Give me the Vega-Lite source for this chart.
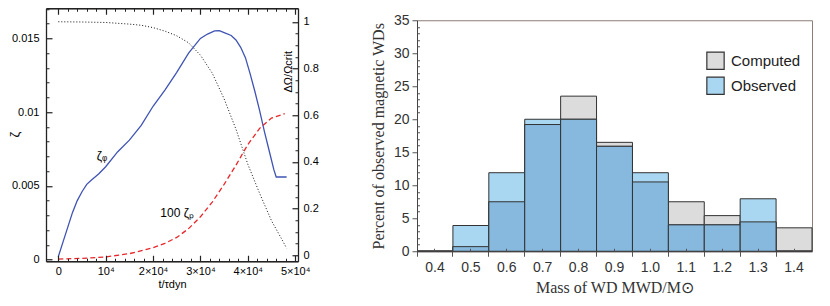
{
  "$schema": "https://vega.github.io/schema/vega-lite/v6.json",
  "padding": {"left": 7, "top": 7, "right": 5, "bottom": 0},
  "spacing": 50,
  "center": true,
  "resolve": {"legend": {"color": "independent"}},
  "config": {
    "view": {"stroke": "#8b7e77", "strokeWidth": 1},
    "axis": {"grid": false, "labelFont": "Liberation Sans", "titleFont": "Liberation Sans", "labelOverlap": false, "labelFlush": false},
    "text": {"font": "Liberation Sans"}
  },
  "datasets": {
    "left": [
      {"s": "phi", "t": 0, "z": 0.0002}, {"s": "phi", "t": 1000, "z": 0.0012}, {"s": "phi", "t": 2000, "z": 0.0022}, {"s": "phi", "t": 3000, "z": 0.0032},
      {"s": "phi", "t": 4000, "z": 0.0040}, {"s": "phi", "t": 5000, "z": 0.0046}, {"s": "phi", "t": 6000, "z": 0.0051}, {"s": "phi", "t": 7000, "z": 0.0054},
      {"s": "phi", "t": 8500, "z": 0.0058}, {"s": "phi", "t": 10000, "z": 0.0063}, {"s": "phi", "t": 12500, "z": 0.0073}, {"s": "phi", "t": 15000, "z": 0.0081},
      {"s": "phi", "t": 17500, "z": 0.0091}, {"s": "phi", "t": 20000, "z": 0.0104}, {"s": "phi", "t": 22500, "z": 0.0115}, {"s": "phi", "t": 25000, "z": 0.0127},
      {"s": "phi", "t": 27500, "z": 0.0140}, {"s": "phi", "t": 30000, "z": 0.0150}, {"s": "phi", "t": 31500, "z": 0.0153}, {"s": "phi", "t": 33000, "z": 0.01552},
      {"s": "phi", "t": 34000, "z": 0.01553}, {"s": "phi", "t": 35000, "z": 0.0154}, {"s": "phi", "t": 36500, "z": 0.0152}, {"s": "phi", "t": 37500, "z": 0.0149},
      {"s": "phi", "t": 38500, "z": 0.0144}, {"s": "phi", "t": 39500, "z": 0.0137}, {"s": "phi", "t": 40500, "z": 0.0126}, {"s": "phi", "t": 41500, "z": 0.0114},
      {"s": "phi", "t": 42500, "z": 0.0101}, {"s": "phi", "t": 43500, "z": 0.0087}, {"s": "phi", "t": 44500, "z": 0.0074}, {"s": "phi", "t": 45500, "z": 0.0061},
      {"s": "phi", "t": 46000, "z": 0.0056}, {"s": "phi", "t": 48200, "z": 0.0056},
      {"s": "p", "t": 0, "z": 0.00003}, {"s": "p", "t": 5000, "z": 0.00008}, {"s": "p", "t": 10000, "z": 0.00018}, {"s": "p", "t": 15000, "z": 0.0004},
      {"s": "p", "t": 20000, "z": 0.0008}, {"s": "p", "t": 22500, "z": 0.0011}, {"s": "p", "t": 25000, "z": 0.0015}, {"s": "p", "t": 27500, "z": 0.0021},
      {"s": "p", "t": 30000, "z": 0.0029}, {"s": "p", "t": 32500, "z": 0.0039}, {"s": "p", "t": 35000, "z": 0.0051}, {"s": "p", "t": 37500, "z": 0.0064},
      {"s": "p", "t": 40000, "z": 0.0078}, {"s": "p", "t": 42500, "z": 0.0089}, {"s": "p", "t": 45000, "z": 0.0096}, {"s": "p", "t": 47800, "z": 0.0099},
      {"s": "omega", "t": 0, "w": 1.0}, {"s": "omega", "t": 5000, "w": 0.999}, {"s": "omega", "t": 10000, "w": 0.997}, {"s": "omega", "t": 15000, "w": 0.99},
      {"s": "omega", "t": 17500, "w": 0.985}, {"s": "omega", "t": 20000, "w": 0.975}, {"s": "omega", "t": 22500, "w": 0.96}, {"s": "omega", "t": 25000, "w": 0.94},
      {"s": "omega", "t": 27500, "w": 0.91}, {"s": "omega", "t": 30000, "w": 0.857}, {"s": "omega", "t": 32500, "w": 0.78}, {"s": "omega", "t": 35000, "w": 0.67},
      {"s": "omega", "t": 37500, "w": 0.54}, {"s": "omega", "t": 40000, "w": 0.39}, {"s": "omega", "t": 42500, "w": 0.265}, {"s": "omega", "t": 45000, "w": 0.148},
      {"s": "omega", "t": 47000, "w": 0.075}, {"s": "omega", "t": 48200, "w": 0.03},
      {"s": "note", "t": 9240, "z": 0.0070, "txt": "ζᵩ"},
      {"s": "note", "t": 25080, "z": 0.00314, "txt": "100 ζₚ"}
    ],
    "hist": [
      {"mass": "0.4", "computed": 0, "observed": 0, "both": 0},
      {"mass": "0.5", "computed": 0.7, "observed": 3.9, "both": 0.7},
      {"mass": "0.6", "computed": 7.5, "observed": 11.9, "both": 7.5},
      {"mass": "0.7", "computed": 19.2, "observed": 20, "both": 19.2},
      {"mass": "0.8", "computed": 23.5, "observed": 20, "both": 20},
      {"mass": "0.9", "computed": 16.5, "observed": 15.9, "both": 15.9},
      {"mass": "1.0", "computed": 10.5, "observed": 11.9, "both": 10.5},
      {"mass": "1.1", "computed": 7.5, "observed": 4, "both": 4},
      {"mass": "1.2", "computed": 5.4, "observed": 4, "both": 4},
      {"mass": "1.3", "computed": 4.45, "observed": 7.95, "both": 4.45},
      {"mass": "1.4", "computed": 3.55, "observed": 0, "both": 0}
    ]
  },
  "hconcat": [
    {
      "width": 252,
      "height": 253,
      "data": {"name": "left"},
      "resolve": {"axis": {"x": "independent", "y": "independent"}},
      "layer": [
        {
          "transform": [{"filter": "datum.s === 'phi'"}],
          "mark": {"type": "line", "color": "#3f53b3", "strokeWidth": 1.3},
          "encoding": {
            "x": {
              "field": "t", "type": "quantitative",
              "scale": {"domain": [-2600, 50600], "nice": false, "zero": false},
              "axis": {
                "orient": "bottom", "offset": -6, "zindex": 1,
                "values": [0, 10000, 20000, 30000, 40000, 50000],
                "domain": false, "tickColor": "#222", "tickSize": 6, "tickWidth": 1.2,
                "labelExpr": "datum.value === 0 ? '0' : (datum.value === 10000 ? '10⁴' : (datum.value / 10000) + '×10⁴')",
                "labelPadding": 4, "labelFontSize": 11, "labelColor": "#000",
                "title": "t/τdyn", "titleY": 29, "titleBaseline": "middle",
                "titleFontSize": 11, "titleFontWeight": "normal", "titleColor": "#000"
              }
            },
            "y": {
              "field": "z", "type": "quantitative",
              "scale": {"domain": [-0.000115, 0.01705], "nice": false, "zero": false},
              "axis": {
                "orient": "left", "offset": -6, "zindex": 1,
                "values": [0, 0.005, 0.01, 0.015],
                "format": "~g",
                "domain": false, "tickColor": "#222", "tickSize": 6, "tickWidth": 1.2,
                "labelPadding": 7, "labelFontSize": 11, "labelColor": "#000",
                "title": "ζ", "titleX": -38, "titleY": 126, "titleAngle": 270,
                "titleAlign": "center", "titleBaseline": "middle",
                "titleFontSize": 13, "titleFontWeight": "normal", "titleColor": "#000"
              }
            }
          }
        },
        {
          "transform": [{"filter": "datum.s === 'p'"}],
          "mark": {"type": "line", "color": "#e8262a", "strokeWidth": 1.3, "strokeDash": [5, 3]},
          "encoding": {
            "x": {
              "field": "t", "type": "quantitative",
              "scale": {"domain": [-2600, 50600], "nice": false, "zero": false},
              "axis": {
                "orient": "bottom", "offset": -3, "zindex": 1,
                "values": [2000,4000,6000,8000,12000,14000,16000,18000,22000,24000,26000,28000,32000,34000,36000,38000,42000,44000,46000,48000],
                "domain": false, "labels": false, "tickColor": "#222", "tickSize": 3,
                "title": ".", "titleOpacity": 0, "titleFontSize": 2, "titleY": 48, "titleBaseline": "middle"
              }
            },
            "y": {
              "field": "z", "type": "quantitative",
              "scale": {"domain": [-0.000115, 0.01705], "nice": false, "zero": false},
              "axis": {
                "orient": "left", "offset": -3, "zindex": 1,
                "values": [0.001,0.002,0.003,0.004,0.006,0.007,0.008,0.009,0.011,0.012,0.013,0.014,0.016,0.017],
                "domain": false, "labels": false, "tickColor": "#222", "tickSize": 3, "title": null
              }
            }
          }
        },
        {
          "transform": [
            {"filter": "datum.s === 'omega'"},
            {"calculate": "0.0002917 + 0.015841 * datum.w", "as": "zw"}
          ],
          "mark": {"type": "line", "color": "#111", "strokeWidth": 1, "strokeDash": [1, 2]},
          "encoding": {
            "x": {
              "field": "t", "type": "quantitative",
              "scale": {"domain": [-2600, 50600], "nice": false, "zero": false},
              "axis": {
                "orient": "top", "offset": -6, "zindex": 1,
                "values": [0, 10000, 20000, 30000, 40000, 50000],
                "domain": false, "labels": false, "tickColor": "#222", "tickSize": 6, "tickWidth": 1.2, "title": null
              }
            },
            "y": {
              "field": "zw", "type": "quantitative",
              "scale": {"domain": [-0.000115, 0.01705], "nice": false, "zero": false},
              "axis": {
                "orient": "right", "offset": -6, "zindex": 1,
                "values": [0.0002917, 0.0034599, 0.0066281, 0.0097963, 0.0129645, 0.0161327],
                "labelExpr": "format((datum.value - 0.0002917) / 0.015841, '.1~f')",
                "domain": false, "tickColor": "#222", "tickSize": 6, "tickWidth": 1.2,
                "labelPadding": 5, "labelFontSize": 11, "labelColor": "#000",
                "title": "ΔΩ/Ωcrit", "titleX": -4, "titleY": 63, "titleAngle": 270,
                "titleAlign": "center", "titleBaseline": "middle",
                "titleFontSize": 11, "titleFontWeight": "normal", "titleColor": "#000"
              }
            }
          }
        },
        {
          "transform": [{"filter": "datum.s === 'note'"}],
          "mark": {"type": "text", "fontSize": 12, "color": "#000", "align": "center", "baseline": "middle"},
          "encoding": {
            "x": {
              "field": "t", "type": "quantitative",
              "scale": {"domain": [-2600, 50600], "nice": false, "zero": false},
              "axis": {
                "orient": "top", "offset": -3, "zindex": 1,
                "values": [2000,4000,6000,8000,12000,14000,16000,18000,22000,24000,26000,28000,32000,34000,36000,38000,42000,44000,46000,48000],
                "domain": false, "labels": false, "tickColor": "#222", "tickSize": 3, "title": null
              }
            },
            "y": {
              "field": "z", "type": "quantitative",
              "scale": {"domain": [-0.000115, 0.01705], "nice": false, "zero": false},
              "axis": {
                "orient": "right", "offset": -3, "zindex": 1,
                "values": [0.0010838,0.0018758,0.0026679,0.004252,0.005044,0.0058361,0.0074202,0.0082122,0.0090043,0.0105884,0.0113804,0.0121725,0.0137566,0.0145486,0.0153407],
                "domain": false, "labels": false, "tickColor": "#222", "tickSize": 3, "title": null
              }
            },
            "text": {"field": "txt"}
          }
        },
        {
          "transform": [{"filter": "datum.s === 'phi'"}],
          "mark": {"type": "line", "strokeOpacity": 0},
          "encoding": {
            "x": {
              "field": "t", "type": "quantitative",
              "scale": {"domain": [-2600, 50600], "nice": false, "zero": false},
              "axis": {
                "orient": "bottom", "zindex": 1, "domain": true, "domainColor": "#222", "domainWidth": 1.3,
                "ticks": false, "labels": false, "title": null
              }
            },
            "y": {
              "field": "z", "type": "quantitative",
              "scale": {"domain": [-0.000115, 0.01705], "nice": false, "zero": false},
              "axis": {
                "orient": "left", "zindex": 1, "domain": true, "domainColor": "#222", "domainWidth": 1.3,
                "ticks": false, "labels": false, "title": null
              }
            }
          }
        },
        {
          "transform": [{"filter": "datum.s === 'phi'"}],
          "mark": {"type": "line", "strokeOpacity": 0},
          "encoding": {
            "x": {
              "field": "t", "type": "quantitative",
              "scale": {"domain": [-2600, 50600], "nice": false, "zero": false},
              "axis": {
                "orient": "top", "zindex": 1, "domain": true, "domainColor": "#222", "domainWidth": 1.3,
                "ticks": false, "labels": false, "title": null
              }
            },
            "y": {
              "field": "z", "type": "quantitative",
              "scale": {"domain": [-0.000115, 0.01705], "nice": false, "zero": false},
              "axis": {
                "orient": "right", "zindex": 1, "domain": true, "domainColor": "#222", "domainWidth": 1.3,
                "ticks": false, "labels": false, "title": null
              }
            }
          }
        }
      ]
    },
    {
      "width": 395,
      "height": 231,
      "data": {"name": "hist"},
      "resolve": {"axis": {"x": "independent", "y": "independent"}},
      "layer": [
        {
          "mark": {"type": "bar", "stroke": "#333", "strokeWidth": 1},
          "encoding": {
            "x": {
              "field": "mass", "type": "ordinal",
              "scale": {"paddingInner": 0, "paddingOuter": 0},
              "axis": {
                "orient": "bottom", "labelAngle": 0, "offset": -3, "zindex": 1,
                "domain": false, "tickColor": "#555", "tickSize": 3,
                "labelPadding": 9, "labelFontSize": 14, "labelColor": "#333",
                "title": "Mass of WD  MWD/M⊙", "titleFont": "Liberation Serif",
                "titleFontSize": 16, "titleFontWeight": "normal", "titleColor": "#333",
                "titleY": 39, "titleBaseline": "middle"
              }
            },
            "y": {
              "field": "computed", "type": "quantitative",
              "scale": {"domain": [0, 35], "nice": false},
              "axis": {
                "orient": "left", "zindex": 1,
                "values": [0, 5, 10, 15, 20, 25, 30, 35],
                "domainColor": "#444", "tickColor": "#555", "tickSize": 5,
                "labelPadding": 3, "labelFontSize": 14, "labelColor": "#333",
                "title": "Percent of observed magnetic WDs", "titleFont": "Liberation Serif",
                "titleFontSize": 16, "titleFontWeight": "normal", "titleColor": "#333",
                "titlePadding": 7
              }
            },
            "color": {
              "datum": "Computed",
              "scale": {"domain": ["Computed", "Observed"], "range": ["#dcdcdc", "#a9d6f0"]},
              "legend": {
                "title": null, "orient": "none", "legendX": 289, "legendY": 31, "padding": 0,
                "symbolType": "square", "symbolSize": 300,
                "symbolStrokeColor": "#333", "symbolStrokeWidth": 1.2,
                "labelFont": "Liberation Sans", "labelFontSize": 15, "labelColor": "#222",
                "labelOffset": 6, "rowPadding": 2
              }
            }
          }
        },
        {
          "mark": {"type": "bar", "stroke": "#333", "strokeWidth": 1},
          "encoding": {
            "x": {
              "field": "mass", "type": "ordinal",
              "scale": {"paddingInner": 0, "paddingOuter": 0},
              "axis": {
                "orient": "bottom", "bandPosition": 0, "zindex": 1,
                "domainColor": "#444", "tickColor": "#555", "tickSize": 5,
                "labels": false, "title": null
              }
            },
            "y": {
              "field": "observed", "type": "quantitative",
              "scale": {"domain": [0, 35], "nice": false},
              "axis": {
                "orient": "left", "offset": -2.5, "zindex": 1,
                "values": [1,2,3,4,6,7,8,9,11,12,13,14,16,17,18,19,21,22,23,24,26,27,28,29,31,32,33,34],
                "domain": false, "tickColor": "#555", "tickSize": 2.5,
                "labels": false, "title": null
              }
            },
            "color": {"datum": "Observed"}
          }
        },
        {
          "mark": {"type": "bar", "stroke": "#333", "strokeWidth": 1, "color": "#86b9dd"},
          "encoding": {
            "x": {
              "field": "mass", "type": "ordinal",
              "scale": {"paddingInner": 0, "paddingOuter": 0},
              "axis": null
            },
            "y": {"field": "both", "type": "quantitative", "scale": {"domain": [0, 35], "nice": false}, "axis": null}
          }
        }
      ]
    }
  ]
}
